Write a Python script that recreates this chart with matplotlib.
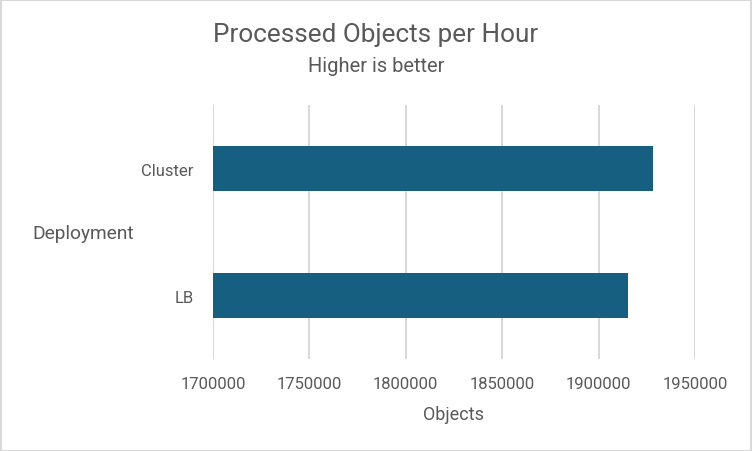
import matplotlib.pyplot as plt
from matplotlib.patches import Rectangle
from matplotlib.ticker import FuncFormatter

# Data
deployments = ['LB', 'Cluster']
objects_per_hour = [1915100, 1928300]
x_ticks = [1700000, 1750000, 1800000, 1850000, 1900000, 1950000]

bar_color = '#175F80'
text_color = '#595959'
grid_color = '#D9D9D9'

plt.rcParams['font.family'] = ['Roboto', 'DejaVu Sans']

fig = plt.figure(figsize=(7.52, 4.52), dpi=100)
ax = fig.add_axes([0.2832, 0.2035, 0.9242 - 0.2832, 0.7655 - 0.2035])

ax.barh(deployments, objects_per_hour, height=0.354, color=bar_color, zorder=3)

ax.set_xlim(1700000, 1950000)
ax.set_ylim(-0.5, 1.5)
ax.set_xticks(x_ticks)
ax.xaxis.set_major_formatter(FuncFormatter(lambda v, p: f'{int(v)}'))
ax.grid(axis='x', color=grid_color, linewidth=1.5, zorder=0)
ax.grid(axis='y', visible=False)
for s in ax.spines.values():
    s.set_visible(False)
ax.tick_params(axis='both', length=0, colors=text_color, labelsize=12)
ax.tick_params(axis='x', pad=12)
ax.tick_params(axis='y', pad=14)

ax.set_xlabel('Objects', color=text_color, fontsize=13, labelpad=10)

fig.text(0.5, 1 - 35 / 452, 'Processed Objects per Hour',
         ha='center', va='center', fontsize=18.8, color=text_color)
fig.text(0.5, 1 - 67 / 452, 'Higher is better',
         ha='center', va='center', fontsize=14.5, color=text_color)
fig.text(32 / 752, 1 - 234 / 452, 'Deployment', ha='left', va='center',
         fontsize=13.8, color=text_color)

fig.patches.append(Rectangle((0.001, 0.001), 0.998, 0.997, transform=fig.transFigure,
                             fill=False, edgecolor=grid_color, linewidth=1.5))

fig.savefig('out.png', dpi=100)
